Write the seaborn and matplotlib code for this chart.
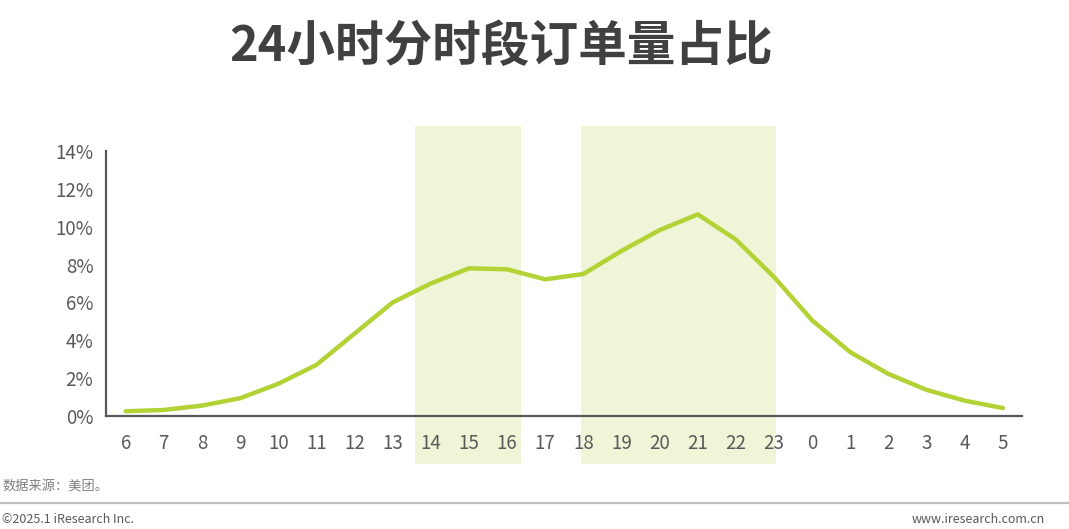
import matplotlib
matplotlib.use("Agg")
import matplotlib.pyplot as plt
import numpy as np
import pandas as pd
import seaborn as sns
from matplotlib.ticker import PercentFormatter, MultipleLocator

# hourly share of orders (%), day starts at 6
hours = ["6", "7", "8", "9", "10", "11", "12", "13", "14", "15", "16", "17",
         "18", "19", "20", "21", "22", "23", "0", "1", "2", "3", "4", "5"]
share = [0.25, 0.32, 0.55, 0.94, 1.7, 2.7, 4.35, 6.0, 7.0, 7.8, 7.75, 7.22,
         7.5, 8.72, 9.82, 10.65, 9.32, 7.34, 5.05, 3.37, 2.22, 1.38, 0.81, 0.42]
# highlighted periods: (first hour, last hour)
peak_periods = [("14", "16"), ("18", "23")]

title = "24小时分时段订单量占比"
source = "数据来源：美团。"
copyright_txt = "©2025.1 iResearch Inc."
site = "www.iresearch.com.cn"

sns.set_theme(style="white")
plt.rcParams["font.family"] = ["Noto Sans CJK SC", "DejaVu Sans"]

LINE = "#B2D235"
BAND = "#EFF5D6"
GREY = "#595959"
# how far each band reaches past its first / last hour tick
band_pad = [(0.42, 0.36), (0.07, 0.05)]

df = pd.DataFrame({"pos": np.arange(len(hours)), "share": share})

fig = plt.figure(figsize=(10.69, 5.29), dpi=100)
ax = fig.add_axes([0.099, 0.2136, 0.857, 0.501])

for (start, end), (lpad, rpad) in zip(peak_periods, band_pad):
    ax.axvspan(hours.index(start) - lpad, hours.index(end) + rpad,
               ymin=-0.181, ymax=1.094, color=BAND, lw=0,
               clip_on=False, zorder=0)

sns.lineplot(data=df, x="pos", y="share", color=LINE, lw=3.2, ax=ax,
             solid_capstyle="round", solid_joinstyle="round", zorder=3)

ax.set_xlim(-0.52, 23.5)
ax.set_ylim(0, 14)
ax.set_xticks(df["pos"])
ax.set_xticklabels(hours)
ax.yaxis.set_major_locator(MultipleLocator(2))
ax.yaxis.set_major_formatter(PercentFormatter(xmax=100, decimals=0))
ax.set_xlabel("")
ax.set_ylabel("")
ax.tick_params(axis="both", length=0, labelsize=13.5, colors=GREY)
ax.tick_params(axis="x", pad=12)
ax.tick_params(axis="y", pad=9)
for side in ["top", "right"]:
    ax.spines[side].set_visible(False)
for side in ["left", "bottom"]:
    ax.spines[side].set_color(GREY)
    ax.spines[side].set_linewidth(1.6)
    ax.spines[side].set_zorder(4)
ax.patch.set_alpha(0)

fig.text(0.469, 0.913, title, ha="center", va="center", fontsize=35,
         fontweight="bold", color="#404040")
fig.text(0.002, 0.081, source, ha="left", va="center", fontsize=9.5,
         color="#7F7F7F")
fig.add_artist(plt.Line2D([0, 1], [0.049, 0.049], color="#BFBFBF", lw=1.6,
                          transform=fig.transFigure))
fig.text(0.002, 0.018, copyright_txt, ha="left", va="center", fontsize=9,
         color=GREY)
fig.text(0.977, 0.018, site, ha="right", va="center", fontsize=9,
         color=GREY)

fig.savefig("out.png", dpi=100)
